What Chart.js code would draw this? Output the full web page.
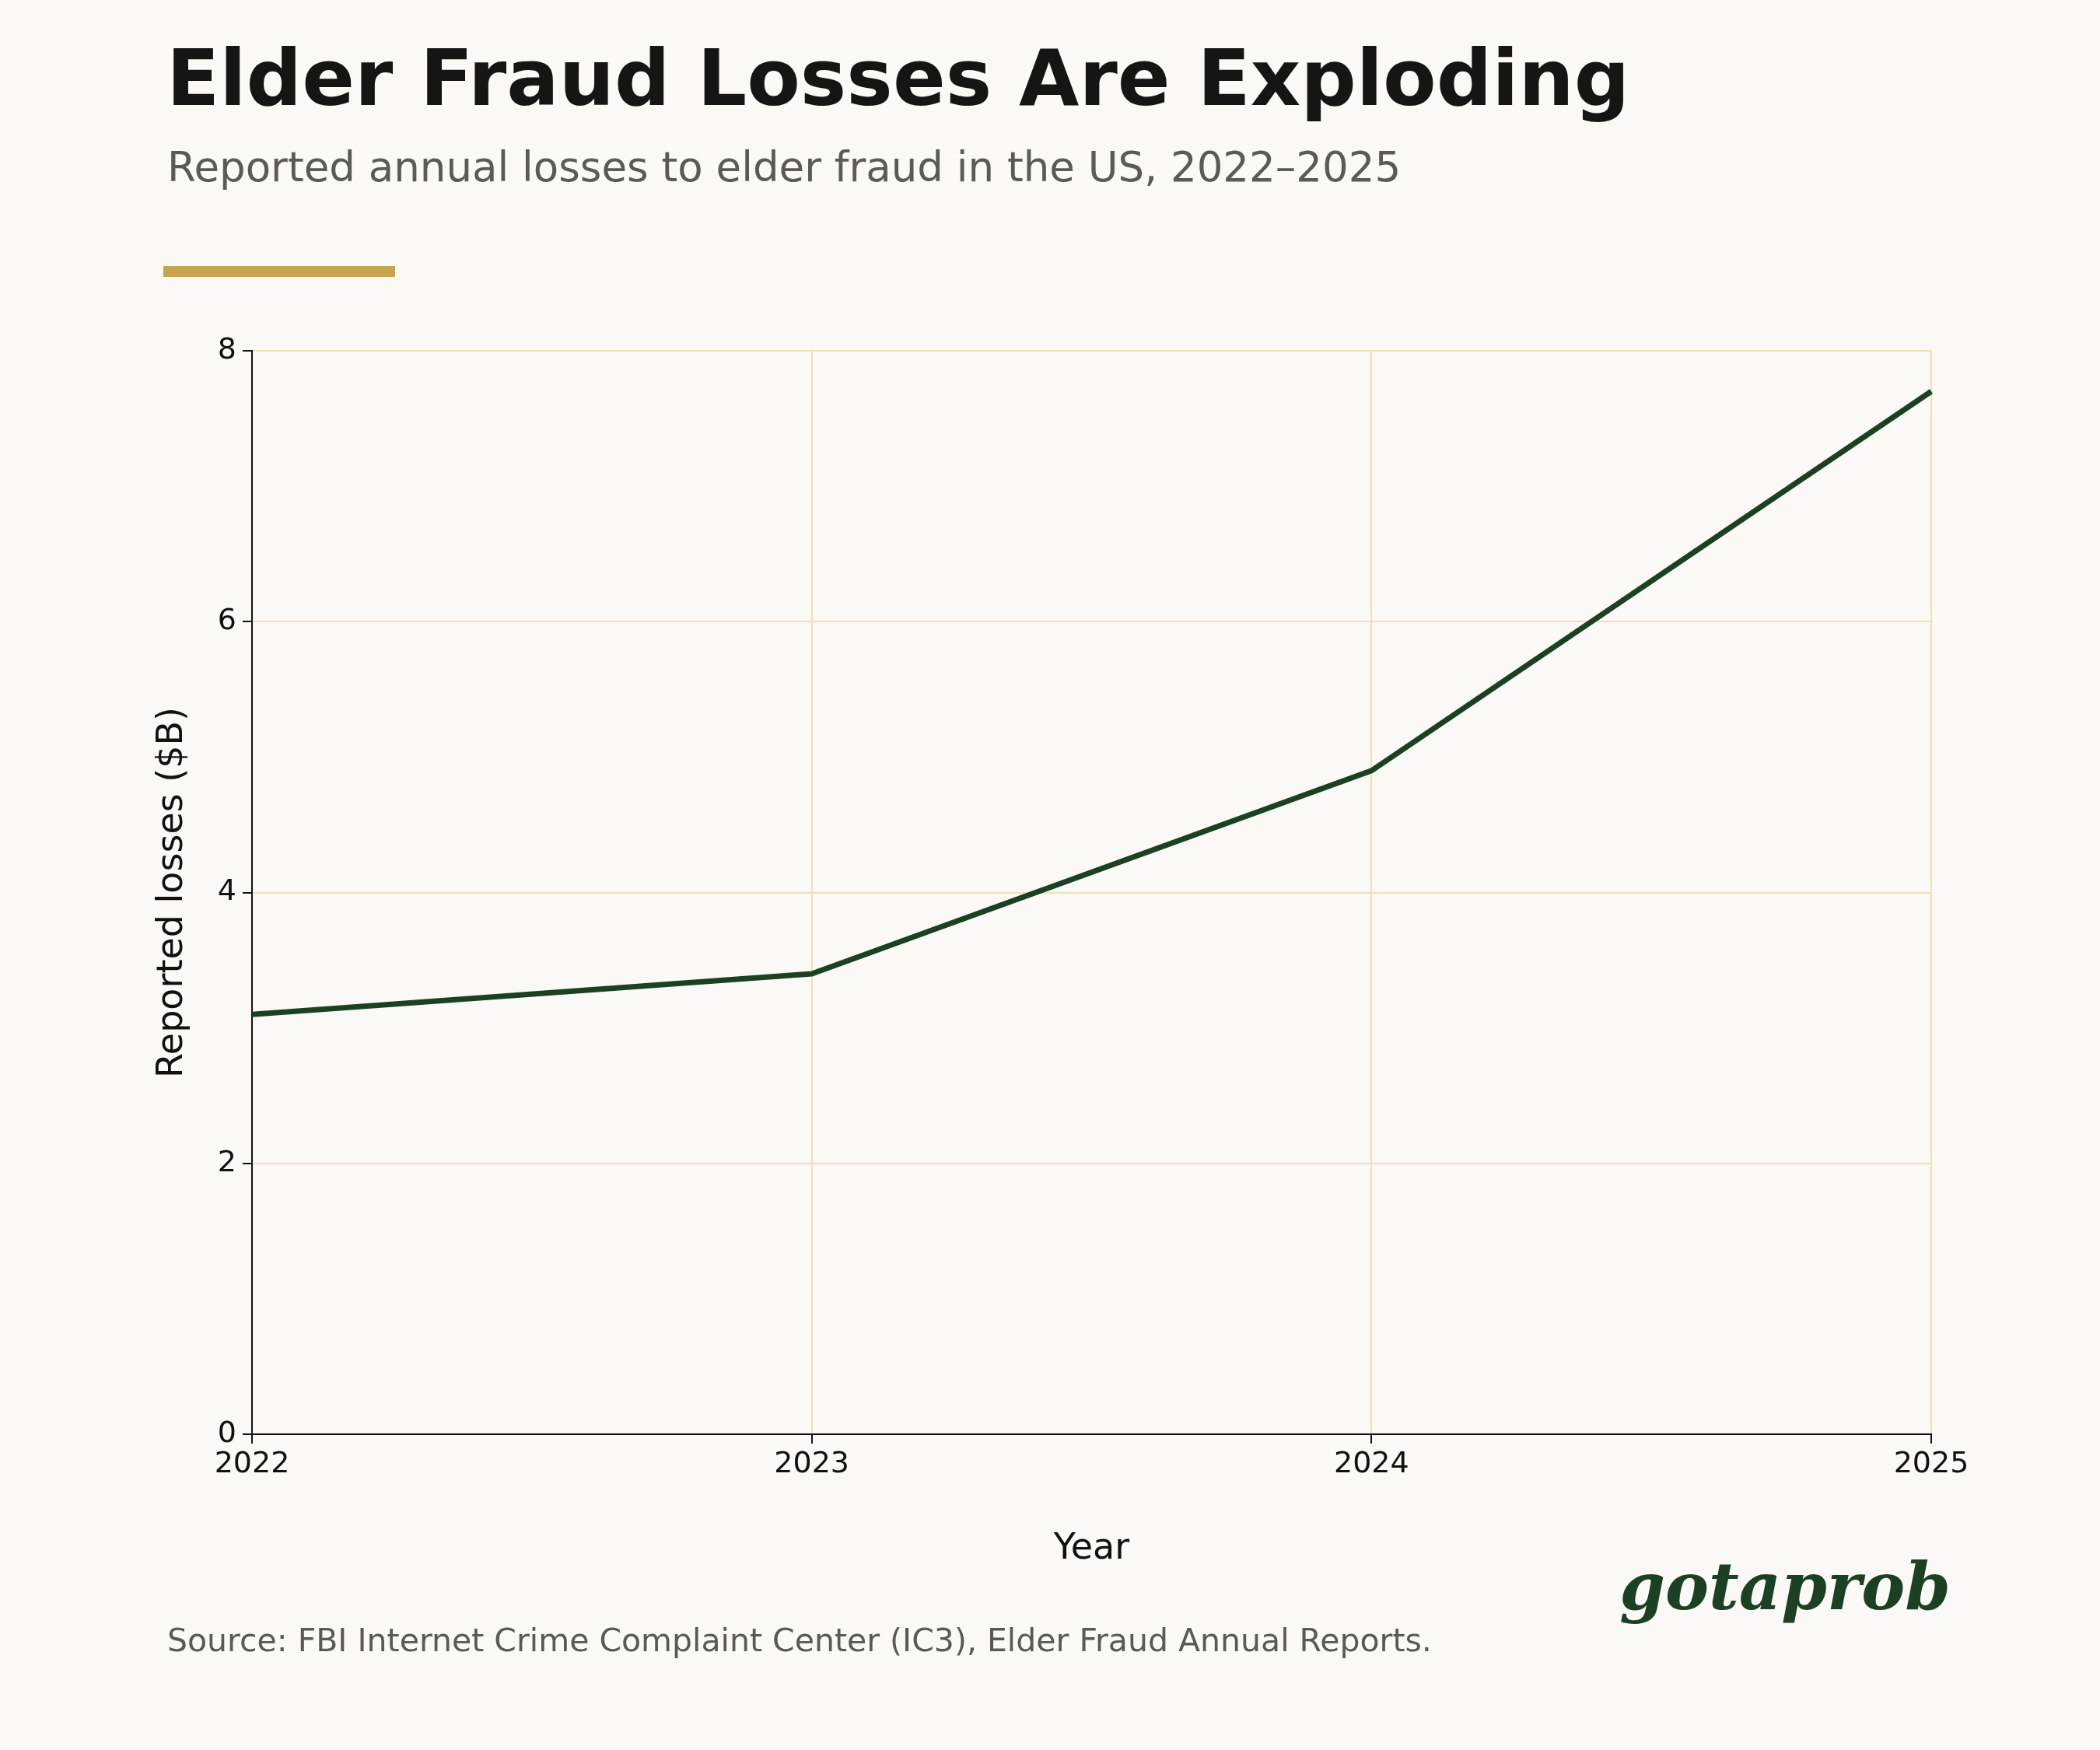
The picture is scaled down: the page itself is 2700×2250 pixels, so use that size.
<!DOCTYPE html>
<html><head><meta charset="utf-8">
<script src="https://cdn.jsdelivr.net/npm/chart.js@4"></script>
<style>
html,body{margin:0;padding:0;background:#faf9f5;width:2700px;height:2250px;overflow:hidden;font-family:"DejaVu Sans",sans-serif}
#wrap{position:relative;width:2700px;height:2250px}
canvas{position:absolute;left:0;top:0}
.t{position:absolute;white-space:nowrap}
</style></head><body>
<div id="wrap">
<canvas id="c" width="2700" height="2250"></canvas>
<div class="t" style="left:214px;top:42px;font-size:100px;font-weight:bold;color:#151515">Elder Fraud Losses Are Exploding</div>
<div class="t" style="left:215px;top:184px;font-size:53px;color:#5a5a5a">Reported annual losses to elder fraud in the US, 2022–2025</div>
<div style="position:absolute;left:210px;top:342px;width:298px;height:14px;background:#c9a44e"></div>
<div class="t" style="left:215px;top:2085px;font-size:41px;color:#595959">Source: FBI Internet Crime Complaint Center (IC3), Elder Fraud Annual Reports.</div>
<div class="t" style="right:192px;top:1990px;font-size:84px;font-weight:bold;font-style:italic;font-family:'DejaVu Serif',serif;color:#1c4024">gotaprob</div>
</div>
<script>
const years=["2022","2023","2024","2025"];
const losses=[3.1,3.4,4.9,7.7];
const yTicks=[0,2,4,6,8];
const grid='#f0e0b6';
new Chart(document.getElementById('c'),{
type:'line',
data:{labels:years,datasets:[{data:losses,borderColor:'#1c4024',borderWidth:7,pointRadius:0,tension:0,fill:false}]},
options:{responsive:false,devicePixelRatio:1,animation:false,
layout:{padding:{left:190,top:451,right:217,bottom:226}},
plugins:{legend:{display:false},tooltip:{enabled:false}},
scales:{
x:{type:'category',offset:false,
 afterFit(s){s.height=180;},
 grid:{color:grid,lineWidth:2,tickLength:12,tickColor:'#111'},
 border:{color:'#111',width:2},
 ticks:{color:'#111',font:{size:38,family:'DejaVu Sans'},maxRotation:0,padding:4},
 title:{display:true,text:'Year',color:'#111',font:{size:46,family:'DejaVu Sans'},padding:{top:20}}},
y:{min:0,max:8,
 afterFit(s){s.width=134;},
 afterBuildTicks(s){s.ticks=yTicks.map(v=>({value:v}));},
 grid:{color:grid,lineWidth:2,tickLength:12,tickColor:'#111'},
 border:{color:'#111',width:2},
 ticks:{color:'#111',font:{size:38,family:'DejaVu Sans'},padding:8},
 title:{display:true,text:'Reported losses ($B)',color:'#111',font:{size:46,family:'DejaVu Sans'},padding:{bottom:10}}}
}}});
</script>
</body></html>
